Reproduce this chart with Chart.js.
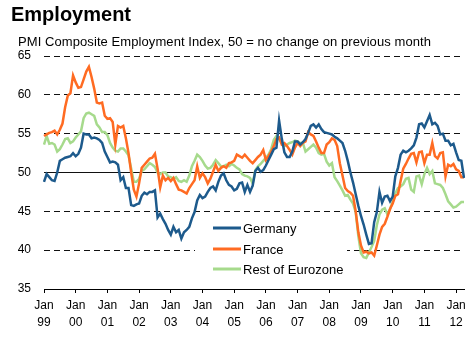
<!DOCTYPE html>
<html>
<head>
<meta charset="utf-8">
<script src="https://cdn.jsdelivr.net/npm/chart.js@4.4.1/dist/chart.umd.min.js"></script>
<style>
  body { margin: 0; background: #fff; }
  #wrap { position: relative; width: 474px; height: 337px; font-family: "Liberation Sans", Arial, sans-serif; }
  #title { position: absolute; left: 11px; top: 4px; font-size: 20px; line-height: 20px; font-weight: bold; color: #000; }
  #subtitle { position: absolute; left: 18px; top: 35px; font-size: 13px; line-height: 13px; letter-spacing: 0.08px; color: #000; white-space: nowrap; }
  canvas { position: absolute; left: 0; top: 0; }
</style>
</head>
<body>
<div id="wrap">
  <canvas id="empChart" width="474" height="337"></canvas>
  <div id="title">Employment</div>
  <div id="subtitle">PMI Composite Employment Index, 50 = no change on previous month</div>
</div>
<script>
// tick labels: one per January, Jan 1999 .. Jan 2012
const yearLabels = ['99', '00', '01', '02', '03', '04', '05', '06', '07', '08', '09', '10', '11', '12'];
const monthNames = ['Jan', 'Feb', 'Mar', 'Apr', 'May', 'Jun', 'Jul', 'Aug', 'Sep', 'Oct', 'Nov', 'Dec'];

// monthly readings, Jan 1999 .. Apr 2012
const germany = [
  48.8, 49.8, 49.4, 49.0, 48.9, 50.0, 51.5, 51.7, 51.9, 52.0,
  52.1, 52.5, 52.1, 52.4, 53.2, 55.0, 54.9, 54.9, 54.4, 54.5,
  54.4, 54.2, 53.8, 52.7, 52.0, 51.3, 51.4, 51.3, 51.0, 49.0,
  49.4, 48.0, 48.0, 45.8, 45.7, 45.9, 46.0, 47.0, 47.4, 47.2,
  47.5, 47.5, 47.7, 44.2, 44.7, 44.0, 43.4, 42.6, 42.0, 43.0,
  42.3, 42.6, 41.5, 42.3, 42.6, 43.0, 44.1, 44.9, 46.4, 47.1,
  46.7, 46.9, 47.5, 48.0, 48.2, 47.7, 48.8, 49.6, 49.9, 49.0,
  48.4, 48.2, 47.7, 47.9, 48.6, 48.7, 47.5, 48.4, 47.5, 48.3,
  50.2, 50.6, 50.1, 50.3, 50.9, 51.6, 52.3, 53.0, 53.2, 56.7,
  54.4, 52.6, 52.0, 52.0, 52.7, 54.0, 54.0, 53.6, 53.9, 54.3,
  55.1, 56.0, 56.2, 55.8, 56.2, 55.6, 55.2, 55.1, 55.0, 54.9,
  54.6, 54.4, 54.1, 53.8, 52.8, 51.5, 50.0, 48.7, 47.2, 45.7,
  44.4, 43.3, 42.0, 40.8, 40.9, 43.6, 44.9, 47.5, 46.1, 46.9,
  47.0, 46.3, 46.9, 49.5, 50.6, 52.3, 52.8, 52.6, 52.8, 53.1,
  53.5, 54.5, 56.2, 56.3, 55.8, 56.6, 57.4, 56.2, 56.4, 56.0,
  54.9, 55.0, 54.1, 54.1, 53.5, 53.7, 52.6, 51.6, 51.5, 49.3
];
const france = [
  54.7, 54.9, 55.1, 55.2, 55.4, 54.9, 55.5, 56.3, 58.4, 59.9,
  60.2, 62.5, 61.6, 60.9, 61.0, 62.0, 63.0, 63.6, 62.3, 60.8,
  59.0, 58.9, 59.0, 57.3, 56.9, 57.0, 56.5, 53.6, 56.0, 55.8,
  56.0, 54.4, 52.5, 50.0, 47.8, 46.9, 48.6, 50.6, 51.0, 51.4,
  51.8, 51.9, 52.4, 50.5, 48.1, 49.6, 49.0, 49.3, 48.9, 49.3,
  48.5, 47.8, 47.7, 47.5, 47.3, 48.0, 48.5, 49.0, 50.8, 49.3,
  49.9, 49.4, 48.6, 49.2, 50.1, 51.0, 50.2, 50.6, 50.8, 50.6,
  51.2, 51.3, 51.5, 52.3, 52.1, 51.9, 52.3, 51.9, 51.5, 51.2,
  51.6, 52.0, 52.3, 52.9, 51.6, 52.1, 52.7, 53.4, 54.3, 54.5,
  53.6, 53.8, 53.4, 52.9, 52.3, 53.2, 53.8, 53.4, 53.8, 54.0,
  55.2, 54.9, 54.7, 54.0, 53.2, 52.5, 52.5, 53.6, 53.9, 54.4,
  54.2, 53.4, 51.2, 49.6, 48.0, 47.6, 47.4, 47.0, 45.0, 42.3,
  40.6, 39.7, 39.8, 39.6, 39.7, 39.3, 40.6, 42.0, 43.0, 43.4,
  44.3, 45.3, 46.0, 47.0, 47.2, 48.9, 50.5, 51.1, 51.8, 52.4,
  52.5, 51.3, 52.6, 52.7, 51.2, 52.3, 52.3, 53.8, 52.1, 51.8,
  52.5, 52.6, 49.5, 51.0, 50.8, 51.1, 50.4, 50.2, 49.4, 49.4
];
const restOfEurozone = [
  53.6, 54.7, 53.7, 53.8, 53.6, 52.7, 53.0, 53.6, 54.3, 54.4,
  53.8, 54.0, 54.5, 54.9, 55.3, 57.0, 57.6, 57.7, 57.5, 57.3,
  56.2, 55.8, 55.2, 55.2, 54.8, 53.8, 53.2, 52.8, 52.7, 53.1,
  53.1, 52.7, 52.2, 50.5, 48.8, 48.8, 49.2, 50.2, 50.4, 50.8,
  51.2, 51.0, 50.7, 50.0, 49.8, 50.0, 50.0, 49.5, 49.4, 49.2,
  49.4, 48.9, 48.8, 49.0, 48.8, 49.6, 50.8, 51.5, 52.3, 52.0,
  51.5, 50.9, 50.5, 50.6, 51.0, 51.6, 51.2, 50.8, 50.8, 51.0,
  50.8, 51.1, 50.9, 50.6, 50.4, 49.8, 49.6, 49.5, 49.3, 48.6,
  50.3, 50.8, 51.1, 51.5, 51.9, 52.3, 53.0, 54.2, 54.7, 54.3,
  53.8, 53.4, 53.6, 53.8, 53.9, 54.1, 54.0, 53.8, 53.8, 52.7,
  53.0, 53.3, 53.6, 53.2, 52.5, 52.3, 52.4, 51.4, 50.9, 51.2,
  49.4, 48.9, 48.3, 47.7, 47.0, 47.1, 46.5, 46.0, 44.9, 41.8,
  39.6, 39.1, 39.0, 39.7, 40.4, 41.2, 43.2, 44.6, 45.2, 45.4,
  44.6, 45.3, 46.2, 47.3, 48.0, 48.2, 48.5, 49.2, 49.3, 47.8,
  47.5, 49.5, 49.6, 48.5, 49.8, 50.6, 49.8, 50.2, 48.6, 48.5,
  48.4, 48.0, 47.2, 46.3, 45.9, 45.5, 45.6, 45.9, 46.2, 46.2
];

const seriesNames = ['Germany', 'France', 'Rest of Eurozone'];
const seriesColors = ['#1d5a8c', '#ff6b22', '#a6da8c'];

// category labels like "Jan 99", one per month
const months = [];
for (let i = 0; i < germany.length; i++) {
  const yr = yearLabels[Math.floor(i / 12)];
  months.push(monthNames[i % 12] + ' ' + yr);
}

const FONT = '"Liberation Sans", Arial, sans-serif';

// legend drawn inside the plot, on a white box
const insideLegend = {
  id: 'insideLegend',
  afterDraw(chart) {
    const c = chart.ctx;
    c.save();
    c.fillStyle = '#fff';
    c.fillRect(195, 217, 152, 64);
    const rows = [228, 249, 269];
    chart.data.datasets.forEach((ds, i) => {
      c.strokeStyle = ds.borderColor;
      c.lineWidth = 3;
      c.beginPath();
      c.moveTo(213, rows[i]);
      c.lineTo(241, rows[i]);
      c.stroke();
      c.fillStyle = '#000';
      c.font = '13px ' + FONT;
      c.textBaseline = 'middle';
      c.fillText(ds.label, 243, rows[i] + 1);
    });
    c.restore();
  }
};

new Chart(document.getElementById('empChart').getContext('2d'), {
  type: 'line',
  data: {
    labels: months,
    datasets: [
      { label: seriesNames[0], data: germany, borderColor: seriesColors[0] },
      { label: seriesNames[1], data: france, borderColor: seriesColors[1] },
      { label: seriesNames[2], data: restOfEurozone, borderColor: seriesColors[2] }
    ]
  },
  options: {
    responsive: false,
    animation: false,
    devicePixelRatio: 1,
    layout: { padding: { top: 56, right: 10, left: 0, bottom: 0 } },
    elements: {
      line: { borderWidth: 2.5, tension: 0, fill: false },
      point: { radius: 0 }
    },
    plugins: {
      legend: { display: false },
      tooltip: { enabled: false }
    },
    scales: {
      x: {
        type: 'category',
        offset: false,
        afterBuildTicks: axis => {
          axis.ticks = axis.ticks.filter(t => t.value % 12 === 0);
        },
        afterFit: scale => { scale.height = 48; },
        ticks: {
          autoSkip: false,
          maxRotation: 0,
          padding: 5,
          color: '#000',
          font: { family: FONT, size: 12, lineHeight: 1.35 },
          callback: function (value) {
            return ['Jan', yearLabels[value / 12]];
          }
        },
        grid: { drawOnChartArea: false, drawTicks: true, tickLength: 4, color: '#000' },
        border: { display: true, color: '#000', width: 1 }
      },
      y: {
        min: 35,
        max: 65,
        afterFit: scale => { scale.width = 44; },
        ticks: {
          stepSize: 5,
          padding: 13,
          color: '#000',
          font: { family: FONT, size: 12 }
        },
        grid: { drawTicks: false, color: '#111', lineWidth: 1 },
        border: {
          display: false,
          dash: ctx => (ctx.tick && ctx.tick.value === 50) ? [] : [6, 4]
        }
      }
    }
  },
  plugins: [insideLegend]
});
</script>
</body>
</html>
